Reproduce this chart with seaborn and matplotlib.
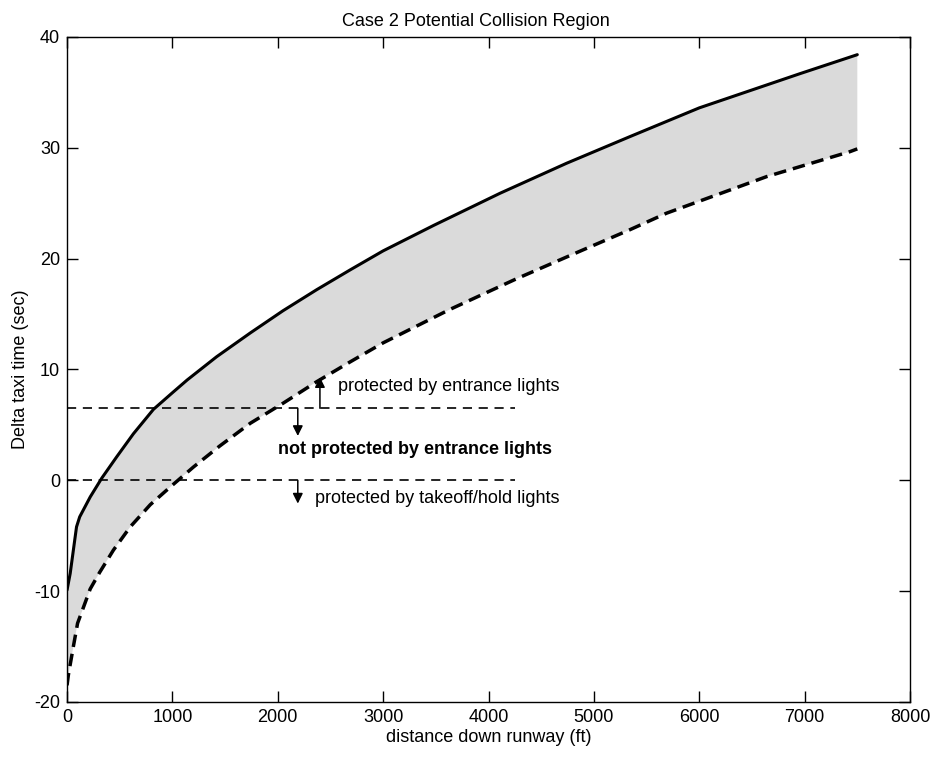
import numpy as np
import pandas as pd
import seaborn as sns
import matplotlib
matplotlib.use("Agg")
import matplotlib.pyplot as plt

# values
upper_ft = [0, 30, 60, 90, 120, 220, 330, 470, 630, 820, 1000, 1140, 1420, 1740,
            2050, 2370, 2690, 3000, 3480, 4110, 4740, 5340, 6000, 6960, 7500]
upper_sec = [-9.9, -8.4, -6.3, -4.2, -3.3, -1.5, 0.2, 2.1, 4.2, 6.4, 7.9, 9.05, 11.15, 13.3,
             15.3, 17.2, 19.0, 20.7, 23.0, 25.9, 28.6, 31.0, 33.6, 36.7, 38.4]

lower_ft = [0, 12, 60, 100, 220, 310, 440, 600, 790, 980, 1200, 1450, 1740, 2050,
            2370, 2690, 3000, 3630, 4270, 4900, 5340, 5690, 6640, 7430, 7500]
lower_sec = [-18.5, -17.6, -15.0, -12.9, -9.8, -8.3, -6.3, -4.2, -2.2, -0.6, 1.2, 3.1, 5.15, 6.95,
             8.9, 10.7, 12.4, 15.4, 18.2, 20.8, 22.6, 24.1, 27.4, 29.65, 29.9]

level_x = [0, 4250]
entrance_level = 6.5
hold_level = 0.0

upper = pd.DataFrame({"dist": upper_ft, "sec": upper_sec})
lower = pd.DataFrame({"dist": lower_ft, "sec": lower_sec})

sns.set_style("ticks")
plt.rcParams["font.family"] = ["Liberation Sans", "DejaVu Sans"]
plt.rcParams["font.size"] = 13
plt.rcParams["axes.unicode_minus"] = False
plt.rcParams["text.color"] = "black"
plt.rcParams["axes.labelcolor"] = "black"

fig = plt.figure(figsize=(9.39, 7.57), dpi=100)
ax = fig.add_axes([0.0714, 0.0727, 0.8977, 0.8785])

# shaded collision region: upper curve out, lower curve back
poly_x = list(upper["dist"]) + list(lower["dist"][::-1])
poly_y = list(upper["sec"]) + list(lower["sec"][::-1])
ax.fill(poly_x, poly_y, color="#dadada", lw=0, zorder=1)

sns.lineplot(data=upper, x="dist", y="sec", color="black", lw=2.2, ax=ax, zorder=3)
sns.lineplot(data=lower, x="dist", y="sec", color="black", lw=2.5, ax=ax, zorder=3,
             linestyle=(0, (3.6, 2.0)))

# entrance light / hold light thresholds
ax.plot(level_x, [entrance_level, entrance_level], color="black", lw=1.2,
        linestyle=(0, (5.5, 4)), zorder=2)
ax.plot(level_x, [hold_level, hold_level], color="black", lw=1.2,
        linestyle=(0, (5.5, 4)), zorder=2)

arrow = dict(arrowstyle="-|>", color="black", lw=1.1, mutation_scale=15, shrinkA=0, shrinkB=0)
ax.annotate("", xy=(2400, 9.3), xytext=(2400, entrance_level), arrowprops=arrow, zorder=4)
ax.annotate("", xy=(2190, 4.0), xytext=(2190, entrance_level), arrowprops=arrow, zorder=4)
ax.annotate("", xy=(2190, -2.1), xytext=(2190, hold_level), arrowprops=arrow, zorder=4)

ax.text(2570, 8.5, "protected by entrance lights", va="center", ha="left", fontsize=13)
ax.text(2000, 2.8, "not protected by entrance lights", va="center", ha="left",
        fontsize=13, fontweight="bold")
ax.text(2350, -1.6, "protected by takeoff/hold lights", va="center", ha="left", fontsize=13)

ax.set_xlim(0, 8000)
ax.set_ylim(-20, 40)
ax.set_xticks(range(0, 8001, 1000))
ax.set_yticks(range(-20, 41, 10))
ax.tick_params(direction="in", length=8, width=1, top=True, right=True,
               labelsize=13, colors="black", pad=5)
for s in ax.spines.values():
    s.set_visible(True)
    s.set_linewidth(1.0)
    s.set_color("black")

ax.set_xlabel("distance down runway (ft)", fontsize=13, labelpad=2)
ax.set_ylabel("Delta taxi time (sec)", fontsize=13, labelpad=4)
ax.set_title("Case 2 Potential Collision Region", fontsize=13, pad=8, x=0.485)

fig.savefig("out.png", dpi=100)
